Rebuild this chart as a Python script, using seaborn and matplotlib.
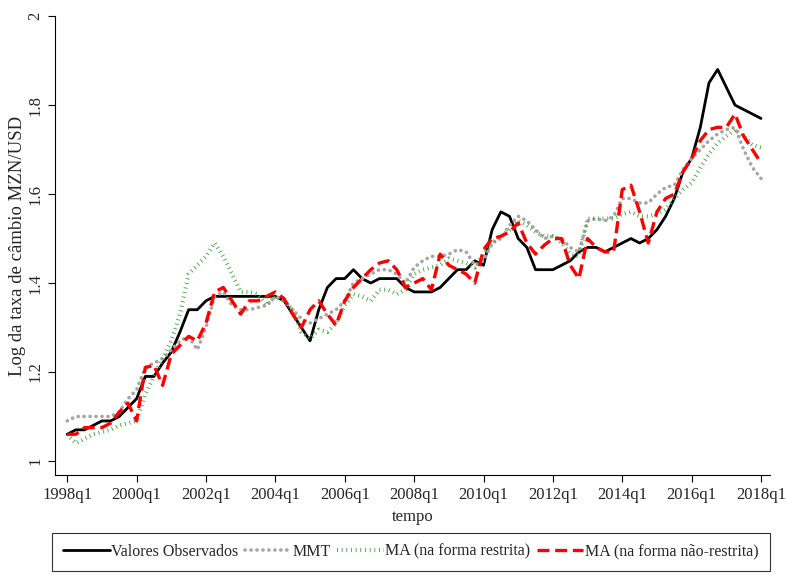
import numpy as np
import pandas as pd
import matplotlib
matplotlib.use("Agg")
import matplotlib.pyplot as plt
import seaborn as sns

sns.set_theme(style="ticks")
plt.rcParams["font.family"] = ["Liberation Serif", "DejaVu Serif"]

# Quarterly periods 1998q1 .. 2018q1
quarters = [f"{y}q{q}" for y in range(1998, 2019) for q in range(1, 5)][:81]
tick_labels = ["1998q1", "2000q1", "2002q1", "2004q1", "2006q1",
               "2008q1", "2010q1", "2012q1", "2014q1", "2016q1", "2018q1"]

observados = [1.06, 1.07, 1.07, 1.08, 1.09, 1.09, 1.10, 1.12, 1.14, 1.19,
              1.19, 1.22, 1.245, 1.29, 1.34, 1.34, 1.36, 1.37, 1.37, 1.37,
              1.37, 1.37, 1.37, 1.37, 1.37, 1.36, 1.33, 1.30, 1.27, 1.34,
              1.39, 1.41, 1.41, 1.43, 1.41, 1.40, 1.41, 1.41, 1.41, 1.39,
              1.38, 1.38, 1.38, 1.39, 1.41, 1.43, 1.43, 1.45, 1.44, 1.52,
              1.56, 1.55, 1.50, 1.48, 1.43, 1.43, 1.43, 1.44, 1.45, 1.47,
              1.48, 1.48, 1.47, 1.48, 1.49, 1.50, 1.49, 1.50, 1.52, 1.55,
              1.59, 1.65, 1.68, 1.75, 1.85, 1.88, 1.84, 1.80, 1.79, 1.78,
              1.77]

mmt = [1.09, 1.10, 1.10, 1.10, 1.10, 1.10, 1.11, 1.14, 1.16, 1.21,
       1.22, 1.23, 1.25, 1.27, 1.28, 1.25, 1.30, 1.37, 1.38, 1.35,
       1.34, 1.34, 1.345, 1.35, 1.37, 1.36, 1.34, 1.32, 1.31, 1.32,
       1.33, 1.34, 1.36, 1.40, 1.41, 1.42, 1.43, 1.43, 1.42, 1.40,
       1.435, 1.45, 1.46, 1.46, 1.465, 1.475, 1.47, 1.44, 1.45, 1.49,
       1.50, 1.53, 1.55, 1.54, 1.52, 1.50, 1.505, 1.50, 1.48, 1.47,
       1.54, 1.545, 1.54, 1.55, 1.59, 1.59, 1.58, 1.58, 1.60, 1.615,
       1.62, 1.655, 1.68, 1.70, 1.72, 1.735, 1.745, 1.75, 1.70, 1.66,
       1.635]

ma_restrita = [1.06, 1.04, 1.05, 1.06, 1.065, 1.07, 1.08, 1.085, 1.09, 1.15,
               1.19, 1.23, 1.27, 1.33, 1.42, 1.44, 1.46, 1.49, 1.46, 1.42,
               1.38, 1.38, 1.375, 1.35, 1.37, 1.36, 1.34, 1.29, 1.275, 1.295,
               1.29, 1.31, 1.35, 1.375, 1.37, 1.36, 1.385, 1.385, 1.375, 1.385,
               1.42, 1.43, 1.435, 1.44, 1.455, 1.45, 1.445, 1.435, 1.465, 1.49,
               1.505, 1.52, 1.54, 1.53, 1.515, 1.505, 1.505, 1.49, 1.465, 1.46,
               1.545, 1.545, 1.545, 1.545, 1.555, 1.56, 1.55, 1.55, 1.555, 1.565,
               1.59, 1.61, 1.625, 1.66, 1.69, 1.715, 1.73, 1.745, 1.73, 1.71,
               1.705]

ma_nao_restrita = [1.06, 1.06, 1.075, 1.075, 1.075, 1.085, 1.11, 1.13, 1.09, 1.21,
                   1.215, 1.17, 1.24, 1.26, 1.28, 1.27, 1.31, 1.38, 1.39, 1.36,
                   1.33, 1.36, 1.36, 1.37, 1.38, 1.365, 1.33, 1.30, 1.34, 1.36,
                   1.33, 1.305, 1.36, 1.39, 1.41, 1.43, 1.445, 1.45, 1.43, 1.39,
                   1.40, 1.41, 1.385, 1.465, 1.44, 1.43, 1.42, 1.40, 1.475, 1.50,
                   1.505, 1.515, 1.535, 1.49, 1.465, 1.485, 1.50, 1.50, 1.44, 1.41,
                   1.50, 1.48, 1.47, 1.47, 1.61, 1.62, 1.56, 1.49, 1.56, 1.59,
                   1.60, 1.65, 1.68, 1.72, 1.745, 1.75, 1.75, 1.78, 1.73, 1.70,
                   1.67]

df = pd.DataFrame({
    "t": np.arange(len(quarters)),
    "Valores Observados": observados,
    "MMT": mmt,
    "MA (na forma restrita)": ma_restrita,
    "MA (na forma não-restrita)": ma_nao_restrita,
})

fig = plt.figure(figsize=(7.87, 5.76), dpi=100)
ax = fig.add_axes([0.07, 0.175, 0.908, 0.797])

sns.lineplot(data=df, x="t", y="Valores Observados", ax=ax, color="black",
             lw=2.0, label="Valores Observados")
sns.lineplot(data=df, x="t", y="MMT", ax=ax, color="#a6a6a6", lw=2.6,
             label="MMT")
ax.lines[-1].set_linestyle((0, (0.05, 1.6)))
ax.lines[-1].set_dash_capstyle("round")
sns.lineplot(data=df, x="t", y="MA (na forma restrita)", ax=ax, color="#4aa84a",
             lw=3.0, label="MA (na forma restrita)")
ax.lines[-1].set_linestyle((0, (0.22, 0.9)))
sns.lineplot(data=df, x="t", y="MA (na forma não-restrita)", ax=ax, color="#ff0000",
             lw=2.4, label="MA (na forma não-restrita)")
ax.lines[-1].set_linestyle((0, (3.6, 1.7)))

ax.set_xlim(-1.4, 81)
ax.set_ylim(0.968, 2.0)
ax.set_xticks(np.arange(0, 81, 8))
ax.set_xticklabels(tick_labels)
ax.set_yticks([1, 1.2, 1.4, 1.6, 1.8, 2])
ax.set_yticklabels(["1", "1.2", "1.4", "1.6", "1.8", "2"], rotation=90, va="center")
ax.tick_params(axis="both", labelsize=12, length=5, width=0.8, color="black")
ax.set_xlabel("tempo", fontsize=12, labelpad=4)
ax.set_ylabel("Log da taxa de câmbio MZN/USD", fontsize=13.5, labelpad=1)
for side in ["top", "right"]:
    ax.spines[side].set_visible(False)
for side in ["left", "bottom"]:
    ax.spines[side].set_color("black")
    ax.spines[side].set_linewidth(0.8)

ax.get_legend().remove()
handles, labels = ax.get_legend_handles_labels()
leg = fig.legend(handles, labels, loc="center", bbox_to_anchor=(0.522, 0.042),
                 ncol=4, fontsize=11.5, frameon=True, fancybox=False,
                 edgecolor="black", handlelength=2.9, handletextpad=0.1,
                 columnspacing=0.4, borderpad=0.7)
leg.get_frame().set_linewidth(0.8)

fig.savefig("out.png", dpi=100, facecolor="white")
